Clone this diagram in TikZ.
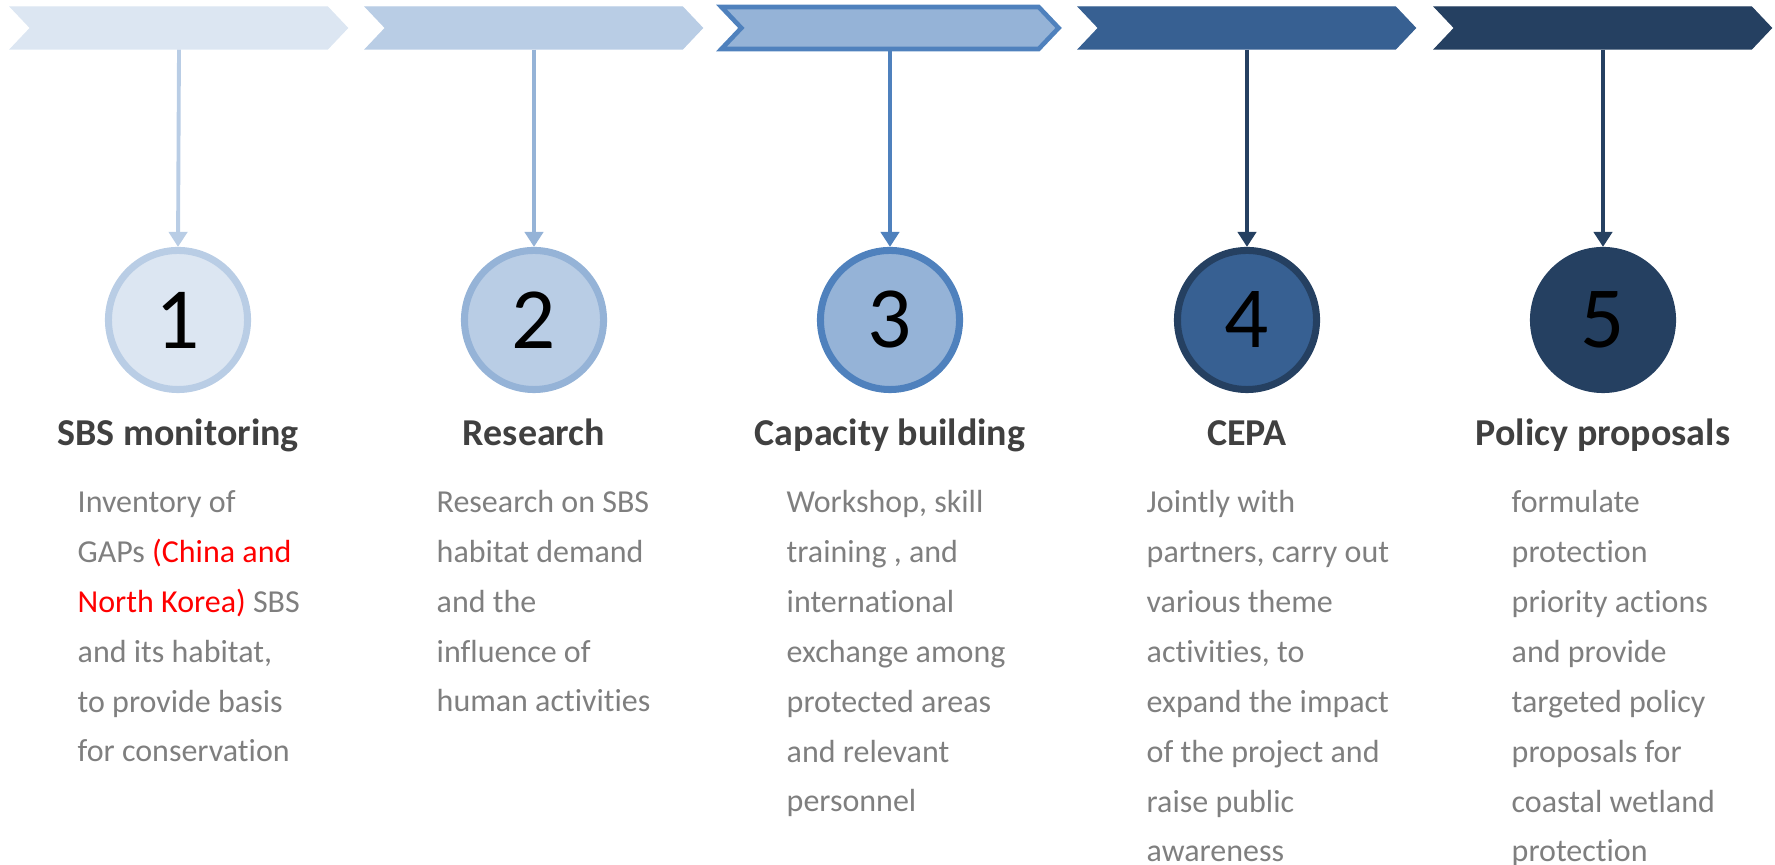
\documentclass[tikz,border=0pt]{standalone}
\usepackage{fontspec}
\setmainfont{Carlito}[Ligatures=NoCommon]
\usetikzlibrary{shapes.symbols,arrows.meta}
\definecolor{blueA}{HTML}{DCE6F2}
\definecolor{blueB}{HTML}{B9CDE5}
\definecolor{blueC}{HTML}{95B3D7}
\definecolor{blueD}{HTML}{4F81BD}
\definecolor{blueE}{HTML}{376092}
\definecolor{blueF}{HTML}{254061}
\definecolor{titlegray}{HTML}{404040}
\definecolor{textgray}{HTML}{7F7F7F}

\begin{document}
\begin{tikzpicture}[x=0.01cm,y=-0.01cm,
  chevron/.style={shape=signal,signal from=west,signal to=east,signal pointer angle=93,
    minimum width=3.37cm,minimum height=0.42cm,inner sep=0pt,draw=#1,fill=#1,line width=0.3pt},
  stepnum/.style={circle,minimum size=1.39cm,inner sep=0pt,line width=2pt,
    font=\fontsize{24.8}{28}\selectfont},
  steptitle/.style={anchor=base,inner sep=0pt,text=titlegray,font=\bfseries\fontsize{10.8}{13}\selectfont},
  steptext/.style={anchor=base west,align=left,inner sep=0pt,text=textgray,
    font=\fontsize{9.1}{14.2}\selectfont},
  link/.style={line width=1.1pt,-{Triangle[length=4.3pt,width=5.2pt]}}]
\useasboundingbox (0,0) rectangle (1775,865);

% text nodes are placed by the baseline of their last line (50 per line)
%-------------------------------------
\node[chevron=blueA] (chev1) at (179,28) {};
\node[stepnum,draw=blueB,fill=blueA] (num1) at (178,320) {1};
\draw[link,blueB] (chev1.south) -- (num1.north);
\node[steptitle] (title1) at (178,446) {SBS monitoring};
\node[steptext] (text1) at (77,762) {Inventory of\\
  GAPs \textcolor{red}{(China and}\\
  \textcolor{red}{North Korea)} SBS\\
  and its habitat,\\
  to provide basis\\
  for conservation};

%-------------------------------------
\node[chevron=blueB] (chev2) at (534,28) {};
\node[stepnum,draw=blueC,fill=blueB] (num2) at (534,320) {2};
\draw[link,blueC] (chev2.south) -- (num2.north);
\node[steptitle] (title2) at (534,446) {Research};
\node[steptext] (text2) at (436,712) {Research on SBS\\
  habitat demand\\
  and the\\
  influence of\\
  human activities};

%-------------------------------------
\node[chevron=blueC,draw=blueD,line width=1.3pt] (chev3) at (890,28) {};
\node[stepnum,draw=blueD,fill=blueC] (num3) at (890,320) {3};
\draw[link,blueD] (chev3.south) -- (num3.north);
\node[steptitle] (title3) at (890,446) {Capacity building};
\node[steptext] (text3) at (786,812) {Workshop, skill\\
  training , and\\
  international\\
  exchange among\\
  protected areas\\
  and relevant\\
  personnel};

%-------------------------------------
\node[chevron=blueE] (chev4) at (1247,28) {};
\node[stepnum,draw=blueF,fill=blueE] (num4) at (1247,320) {4};
\draw[link,blueF] (chev4.south) -- (num4.north);
\node[steptitle] (title4) at (1247,446) {CEPA};
\node[steptext] (text4) at (1146,862) {Jointly with\\
  partners, carry out\\
  various theme\\
  activities, to\\
  expand the impact\\
  of the project and\\
  raise public\\
  awareness};

%-------------------------------------
\node[chevron=blueF] (chev5) at (1603,28) {};
\node[stepnum,draw=blueF,fill=blueF] (num5) at (1603,320) {5};
\draw[link,blueF] (chev5.south) -- (num5.north);
\node[steptitle] (title5) at (1603,446) {Policy proposals};
\node[steptext] (text5) at (1511,862) {formulate\\
  protection\\
  priority actions\\
  and provide\\
  targeted policy\\
  proposals for\\
  coastal wetland\\
  protection};
\end{tikzpicture}
\end{document}
